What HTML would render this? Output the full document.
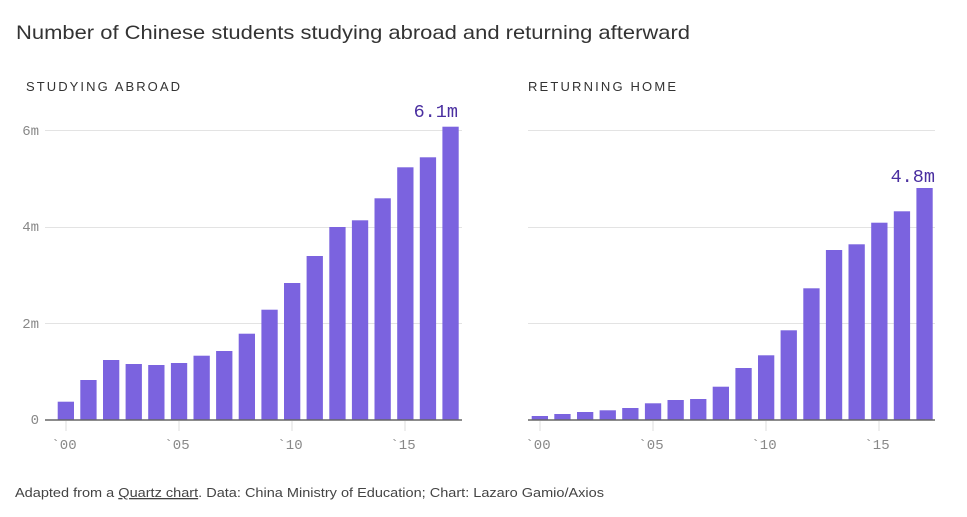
<!DOCTYPE html>
<html><head><meta charset="utf-8"><style>
html,body{margin:0;padding:0;background:#fff;}
svg{display:block;}
</style></head><body>
<svg width="967" height="517" xmlns="http://www.w3.org/2000/svg">
<text x="16" y="39" font-family="Liberation Sans, sans-serif" font-size="19.5" fill="#333" textLength="674" lengthAdjust="spacingAndGlyphs">Number of Chinese students studying abroad and returning afterward</text>
<text x="26" y="91" font-family="Liberation Sans, sans-serif" font-size="13" fill="#333" textLength="154" lengthAdjust="spacing">STUDYING ABROAD</text>
<text x="528" y="91" font-family="Liberation Sans, sans-serif" font-size="13" fill="#333" textLength="148" lengthAdjust="spacing">RETURNING HOME</text>

<g stroke="#e3e3e3" stroke-width="1">
<line x1="45" y1="130.5" x2="462" y2="130.5"/><line x1="45" y1="227.5" x2="462" y2="227.5"/><line x1="45" y1="323.5" x2="462" y2="323.5"/>
<line x1="528" y1="130.5" x2="935" y2="130.5"/><line x1="528" y1="227.5" x2="935" y2="227.5"/><line x1="528" y1="323.5" x2="935" y2="323.5"/>
</g>
<g font-family="Liberation Mono, monospace" font-size="14" fill="#888" text-anchor="end">
<text x="39" y="135">6m</text><text x="39" y="231">4m</text><text x="39" y="328">2m</text><text x="39" y="424">0</text>
</g>
<g fill="#7b63df">
<rect x="57.7" y="401.7" width="16.3" height="18.3"/>
<rect x="80.3" y="380" width="16.3" height="40"/>
<rect x="103.0" y="360" width="16.3" height="60"/>
<rect x="125.6" y="364" width="16.3" height="56"/>
<rect x="148.2" y="365" width="16.3" height="55"/>
<rect x="170.9" y="363" width="16.3" height="57"/>
<rect x="193.5" y="355.7" width="16.3" height="64.3"/>
<rect x="216.1" y="351" width="16.3" height="69"/>
<rect x="238.7" y="333.7" width="16.3" height="86.3"/>
<rect x="261.4" y="309.7" width="16.3" height="110.3"/>
<rect x="284.0" y="283" width="16.3" height="137"/>
<rect x="306.6" y="256" width="16.3" height="164"/>
<rect x="329.3" y="227" width="16.3" height="193"/>
<rect x="351.9" y="220.3" width="16.3" height="199.7"/>
<rect x="374.5" y="198.3" width="16.3" height="221.7"/>
<rect x="397.2" y="167.3" width="16.3" height="252.7"/>
<rect x="419.8" y="157.3" width="16.3" height="262.7"/>
<rect x="442.4" y="126.7" width="16.3" height="293.3"/>

<rect x="531.7" y="416" width="16.3" height="4"/>
<rect x="554.3" y="414" width="16.3" height="6"/>
<rect x="577.0" y="412" width="16.3" height="8"/>
<rect x="599.6" y="410.3" width="16.3" height="9.7"/>
<rect x="622.2" y="408" width="16.3" height="12"/>
<rect x="644.9" y="403.3" width="16.3" height="16.7"/>
<rect x="667.5" y="400" width="16.3" height="20"/>
<rect x="690.1" y="399" width="16.3" height="21"/>
<rect x="712.7" y="386.7" width="16.3" height="33.3"/>
<rect x="735.4" y="368" width="16.3" height="52"/>
<rect x="758.0" y="355.3" width="16.3" height="64.7"/>
<rect x="780.6" y="330.3" width="16.3" height="89.7"/>
<rect x="803.3" y="288.3" width="16.3" height="131.7"/>
<rect x="825.9" y="250" width="16.3" height="170"/>
<rect x="848.5" y="244.3" width="16.3" height="175.7"/>
<rect x="871.2" y="222.7" width="16.3" height="197.3"/>
<rect x="893.8" y="211.3" width="16.3" height="208.7"/>
<rect x="916.4" y="188" width="16.3" height="232"/>
</g>
<g stroke="#666" stroke-width="1.5">
<line x1="45" y1="420" x2="462" y2="420"/><line x1="528" y1="420" x2="935" y2="420"/>
</g>
<g stroke="#ddd" stroke-width="1">
<line x1="66" y1="421" x2="66" y2="431"/><line x1="179" y1="421" x2="179" y2="431"/><line x1="292" y1="421" x2="292" y2="431"/><line x1="405" y1="421" x2="405" y2="431"/>
<line x1="540" y1="421" x2="540" y2="431"/><line x1="653" y1="421" x2="653" y2="431"/><line x1="766" y1="421" x2="766" y2="431"/><line x1="879" y1="421" x2="879" y2="431"/>
</g>
<g font-family="Liberation Mono, monospace" font-size="14" fill="#888" text-anchor="middle">
<text x="64" y="449">`00</text><text x="177" y="449">`05</text><text x="290" y="449">`10</text><text x="403" y="449">`15</text>
<text x="538" y="449">`00</text><text x="651" y="449">`05</text><text x="764" y="449">`10</text><text x="877" y="449">`15</text>
</g>
<text x="458" y="117" text-anchor="end" font-family="Liberation Mono, monospace" font-size="18.5" fill="#4a2fa0">6.1m</text>
<text x="935" y="182" text-anchor="end" font-family="Liberation Mono, monospace" font-size="18.5" fill="#4a2fa0">4.8m</text>
<text x="15" y="497" font-family="Liberation Sans, sans-serif" font-size="13" fill="#444" textLength="589" lengthAdjust="spacingAndGlyphs">Adapted from a <tspan text-decoration="underline">Quartz chart</tspan>. Data: China Ministry of Education; Chart: Lazaro Gamio/Axios</text>
</svg>
</body></html>
